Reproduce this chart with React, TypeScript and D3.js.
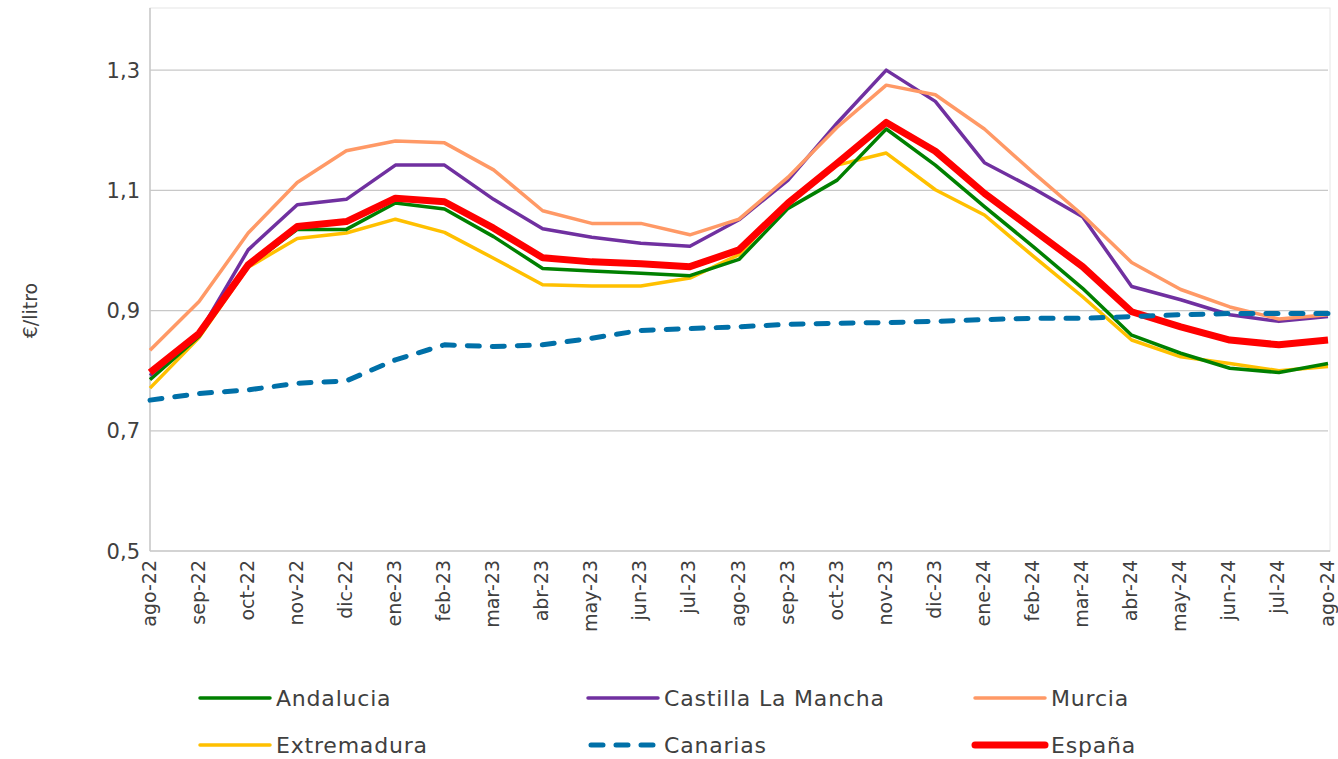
import React, { useEffect, useRef } from 'react';
import * as d3 from 'd3';

const months = [
  'ago-22', 'sep-22', 'oct-22', 'nov-22', 'dic-22', 'ene-23', 'feb-23', 'mar-23', 'abr-23',
  'may-23', 'jun-23', 'jul-23', 'ago-23', 'sep-23', 'oct-23', 'nov-23', 'dic-23', 'ene-24',
  'feb-24', 'mar-24', 'abr-24', 'may-24', 'jun-24', 'jul-24', 'ago-24',
];

const andalucia = [0.785, 0.857, 0.974, 1.035, 1.035, 1.079, 1.069, 1.023, 0.970, 0.966, 0.962, 0.958, 0.985, 1.070, 1.117, 1.202, 1.142, 1.073, 1.006, 0.937, 0.859, 0.829, 0.804, 0.797, 0.812];
const castilla = [0.792, 0.862, 1.001, 1.076, 1.085, 1.142, 1.142, 1.085, 1.036, 1.022, 1.012, 1.007, 1.051, 1.117, 1.212, 1.300, 1.248, 1.146, 1.103, 1.056, 0.940, 0.918, 0.893, 0.882, 0.890];
const murcia = [0.834, 0.915, 1.029, 1.113, 1.166, 1.182, 1.179, 1.134, 1.066, 1.045, 1.045, 1.026, 1.052, 1.122, 1.205, 1.275, 1.259, 1.202, 1.129, 1.059, 0.980, 0.935, 0.906, 0.886, 0.893];
const extremadura = [0.771, 0.855, 0.972, 1.020, 1.029, 1.052, 1.030, 0.987, 0.943, 0.941, 0.941, 0.954, 0.993, 1.081, 1.142, 1.162, 1.101, 1.059, 0.990, 0.923, 0.851, 0.823, 0.812, 0.800, 0.807];
const canarias = [0.751, 0.762, 0.768, 0.779, 0.783, 0.818, 0.843, 0.840, 0.843, 0.854, 0.867, 0.870, 0.873, 0.877, 0.879, 0.880, 0.882, 0.885, 0.887, 0.887, 0.890, 0.893, 0.895, 0.895, 0.895];
const espana = [0.797, 0.862, 0.976, 1.040, 1.048, 1.087, 1.081, 1.037, 0.988, 0.981, 0.978, 0.973, 1.001, 1.079, 1.145, 1.213, 1.165, 1.095, 1.034, 0.973, 0.898, 0.873, 0.851, 0.843, 0.851];

const yTicks = [0.5, 0.7, 0.9, 1.1, 1.3];

const series = [
  { name: 'Andalucia', values: andalucia, color: '#008000', width: 3.5, dash: null },
  { name: 'Castilla La Mancha', values: castilla, color: '#7030A0', width: 3.5, dash: null },
  { name: 'Murcia', values: murcia, color: '#FF9966', width: 3.5, dash: null },
  { name: 'Extremadura', values: extremadura, color: '#FFC000', width: 3.5, dash: null },
  { name: 'Canarias', values: canarias, color: '#0070A8', width: 5, dash: '12,13' },
  { name: 'España', values: espana, color: '#FF0000', width: 7, dash: null },
];

// draw order: España on top of the solid lines, Canarias last
const drawOrder = [3, 0, 1, 2, 5, 4];

export default function App() {
  const ref = useRef<SVGSVGElement>(null);

  useEffect(() => {
    const svg = d3.select(ref.current);
    svg.selectAll('*').remove();

    const left = 150;
    const right = 1328;
    const top = 10;
    const bottom = 551;
    const font = "'DejaVu Sans', sans-serif";
    const txt = '#404040';

    const x = d3.scalePoint<string>().domain(months).range([left, right]);
    const y = d3.scaleLinear().domain([0.5, 1.4]).range([bottom, top]);

    // plot area border
    svg.append('rect')
      .attr('x', left).attr('y', top - 2)
      .attr('width', right - left + 2).attr('height', bottom - top + 2)
      .attr('fill', 'none').attr('stroke', '#e6e6e6').attr('stroke-width', 1);

    // gridlines
    svg.append('g')
      .selectAll('line')
      .data(yTicks.slice(1))
      .enter()
      .append('line')
      .attr('x1', left).attr('x2', right)
      .attr('y1', (d) => y(d)).attr('y2', (d) => y(d))
      .attr('stroke', '#c8c8c8').attr('stroke-width', 1.3);

    // axis lines
    svg.append('line')
      .attr('x1', left).attr('x2', left).attr('y1', top - 2).attr('y2', bottom)
      .attr('stroke', '#c8c8c8').attr('stroke-width', 1.5);
    svg.append('line')
      .attr('x1', left).attr('x2', right + 2).attr('y1', bottom).attr('y2', bottom)
      .attr('stroke', '#c8c8c8').attr('stroke-width', 1.5);

    svg.append('g')
      .selectAll('text')
      .data(yTicks)
      .enter()
      .append('text')
      .attr('x', 140)
      .attr('y', (d) => y(d))
      .attr('dy', '0.36em')
      .attr('text-anchor', 'end')
      .attr('font-family', font)
      .attr('font-size', 21)
      .attr('fill', txt)
      .text((d) => d3.format('.1f')(d).replace('.', ','));

    svg.append('text')
      .attr('transform', `translate(37,${y(0.9)}) rotate(-90)`)
      .attr('text-anchor', 'middle')
      .attr('font-family', font)
      .attr('font-size', 19)
      .attr('fill', txt)
      .text('€/litro');

    // x labels
    svg.append('g')
      .selectAll('text')
      .data(months)
      .enter()
      .append('text')
      .attr('transform', (d) => `translate(${(x(d) as number) + 5.5},${bottom + 9}) rotate(-90)`)
      .attr('text-anchor', 'end')
      .attr('font-family', font)
      .attr('font-size', 19)
      .attr('fill', txt)
      .text((d) => d);

    const line = d3.line<number>()
      .x((_, i) => x(months[i]) as number)
      .y((d) => y(d));

    drawOrder.forEach((si) => {
      const s = series[si];
      const p = svg.append('path')
        .datum(s.values)
        .attr('d', line)
        .attr('fill', 'none')
        .attr('stroke', s.color)
        .attr('stroke-width', s.width)
        .attr('stroke-linejoin', 'round');
      if (s.dash) p.attr('stroke-dasharray', s.dash).attr('stroke-linecap', 'round');
    });

    // legend
    const legX = [200, 588, 975];
    const legY = [698, 745];
    series.forEach((s, i) => {
      const lx = legX[i % 3];
      const ly = legY[Math.floor(i / 3)];
      svg.append('line')
        .attr('x1', lx + (s.dash ? 3 : 0)).attr('x2', lx + 70)
        .attr('y1', ly).attr('y2', ly)
        .attr('stroke', s.color)
        .attr('stroke-width', s.width)
        .attr('stroke-linecap', 'round')
        .attr('stroke-dasharray', s.dash);
      svg.append('text')
        .attr('x', lx + 76)
        .attr('y', ly)
        .attr('dy', '0.36em')
        .attr('font-family', font)
        .attr('font-size', 22)
        .attr('letter-spacing', 0.8)
        .attr('fill', txt)
        .text(s.name);
    });
  }, []);

  return (
    <svg
      ref={ref}
      width={1338}
      height={759}
      style={{ position: 'absolute', left: 0, top: 0, background: '#fff' }}
    />
  );
}
